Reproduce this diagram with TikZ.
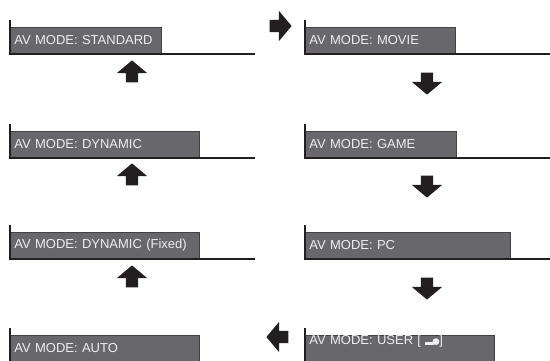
\documentclass[tikz,border=0pt]{standalone}
\usepackage{fontspec}
\setmainfont{Liberation Sans}
\usepackage{xcolor}
\usepackage{tikz}
\usetikzlibrary{shapes.arrows,positioning}
\definecolor{modegray}{RGB}{104,104,108}
\definecolor{modetext}{RGB}{238,238,238}
\definecolor{inkblack}{RGB}{35,31,32}
\newcommand{\usericon}{\tikz[baseline=0pt]{\fill[modetext] (0pt,0pt) rectangle (9pt,2.4pt); \fill[modetext] (10.5pt,3.2pt) circle (3.4pt); \node[inner sep=0pt, text=modegray, font=\fontsize{4.5pt}{5pt}\selectfont] at (10.7pt,3.2pt) {1};}}

\begin{document}
\begin{tikzpicture}[x=1pt, y=-1pt, font=\fontsize{13pt}{15pt}\selectfont, mode/.style={draw=inkblack!85, line width=0.8pt, fill=modegray, text=modetext, anchor=north west, align=left, inner xsep=4pt, inner ysep=0pt, minimum height=26pt}, rule/.style={inkblack, line width=1.8pt}, stem/.style={inkblack, line width=1.4pt}, blk/.style={single arrow, fill=inkblack, inner sep=6pt, minimum height=22pt, single arrow head extend=9pt, single arrow tip angle=100}]
\clip (0,0) rectangle (550,361);
% left column
\node[mode, text width=143pt] (std) at (10,27) {AV MODE: STANDARD};
\node[mode, text width=181pt] (dyn) at (10,131) {AV MODE: DYNAMIC};
\node[mode, text width=181pt] (dynfix) at (10,232) {AV MODE: DYNAMIC (Fixed)};
\node[mode, text width=181pt] (auto) at (10,335) {AV MODE: AUTO};
% right column
\node[mode, text width=142pt] (movie) at (305,27) {AV MODE: MOVIE};
\node[mode, text width=143pt] (game) at (305,131) {AV MODE: GAME};
\node[mode, text width=197pt] (pc) at (305,232) {AV MODE: PC};
\node[mode, text width=181pt] (user) at (305,335) {AV MODE: USER [ \usericon]};
\foreach \m in {std,dyn,dynfix,auto} {
  \draw[stem] ([yshift=7pt]\m.north west) -- (\m.south west);
  \draw[rule] ([xshift=-1pt]\m.south west) -- ++(246,0);
}
\foreach \m in {movie,game,pc,user} {
  \draw[stem] ([yshift=7pt]\m.north west) -- (\m.south west);
  \draw[rule] ([xshift=-1pt]\m.south west) -- ++(246,0);
}
\node[blk, shape border rotate=90] (up1) at (132,74) {};
\node[blk, shape border rotate=90] (up2) at (132,177) {};
\node[blk, shape border rotate=90] (up3) at (132,279) {};
\node[blk] (right1) at (278,26) {};
\node[blk, shape border rotate=270] (down1) at (427,81) {};
\node[blk, shape border rotate=270] (down2) at (427,184) {};
\node[blk, shape border rotate=270] (down3) at (427,286) {};
\node[blk, shape border rotate=180] (left1) at (280,337) {};
\end{tikzpicture}
\end{document}
